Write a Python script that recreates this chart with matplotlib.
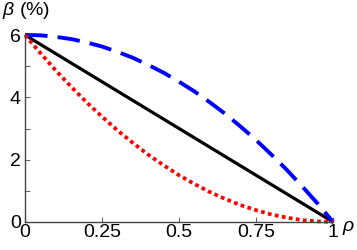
import matplotlib.pyplot as plt

plt.rcParams['font.family'] = ['Liberation Sans', 'DejaVu Sans']
plt.rcParams['mathtext.fontset'] = 'custom'
plt.rcParams['mathtext.it'] = 'Liberation Sans:italic'
plt.rcParams['mathtext.rm'] = 'Liberation Sans'

# values
rho = [0, 0.05, 0.1, 0.15, 0.2, 0.25, 0.3, 0.35, 0.4, 0.45, 0.5,
       0.55, 0.6, 0.65, 0.7, 0.75, 0.8, 0.85, 0.9, 0.95, 1]
beta_blue = [6, 5.99, 5.94, 5.87, 5.76, 5.63, 5.46, 5.27, 5.04, 4.79, 4.5,
             4.19, 3.84, 3.47, 3.06, 2.63, 2.16, 1.67, 1.14, 0.59, 0]
beta_red = [6, 5.42, 4.86, 4.34, 3.84, 3.38, 2.94, 2.54, 2.16, 1.82, 1.5,
            1.22, 0.96, 0.74, 0.54, 0.38, 0.24, 0.14, 0.06, 0.02, 0]
rho_black = [0, 1]
beta_black = [6, 0]

xticks = [0, 0.25, 0.5, 0.75, 1]
xlabels = ['0', '0.25', '0.5', '0.75', '1']
yticks = [0, 2, 4, 6]
yminor = [1, 3, 5]

fig = plt.figure(figsize=(3.57, 2.5), dpi=100)
ax = fig.add_axes([0.070, 0.112, 0.863, 0.748])

ax.plot(rho_black, beta_black, color='black', lw=2.3, solid_capstyle='butt')
ax.plot(rho, beta_blue, color='#0000ff', lw=2.8, dashes=(5.8, 2.6), dash_capstyle='butt')
ax.plot(rho, beta_red, color='#ff0000', lw=2.7, dashes=(1.0, 0.9), dash_capstyle='butt')

ax.set_xlim(0, 1)
ax.set_ylim(0, 6)
ax.set_xticks(xticks)
ax.set_xticklabels(xlabels)
ax.set_yticks(yticks)
ax.set_yticks(yminor, minor=True)

for s in ['top', 'right']:
    ax.spines[s].set_visible(False)
for s in ['left', 'bottom']:
    ax.spines[s].set_color('#444444')
    ax.spines[s].set_linewidth(1.0)

ax.tick_params(which='both', direction='in', length=3.5, width=0.8,
               color='#666666', labelsize=14, pad=1.5)
ax.tick_params(axis='y', pad=3)

ax.text(-0.075, 1.13, r'$\beta$ (%)', transform=ax.transAxes, fontsize=14,
        ha='left', va='center')
ax.text(1.05, -0.03, r'$\rho$', transform=ax.transAxes, fontsize=14,
        ha='center', va='center')

for sp in ax.spines.values():
    sp.set_clip_on(False)
for ln in ax.lines:
    ln.set_clip_on(False)

fig.savefig('out.png', dpi=100)
